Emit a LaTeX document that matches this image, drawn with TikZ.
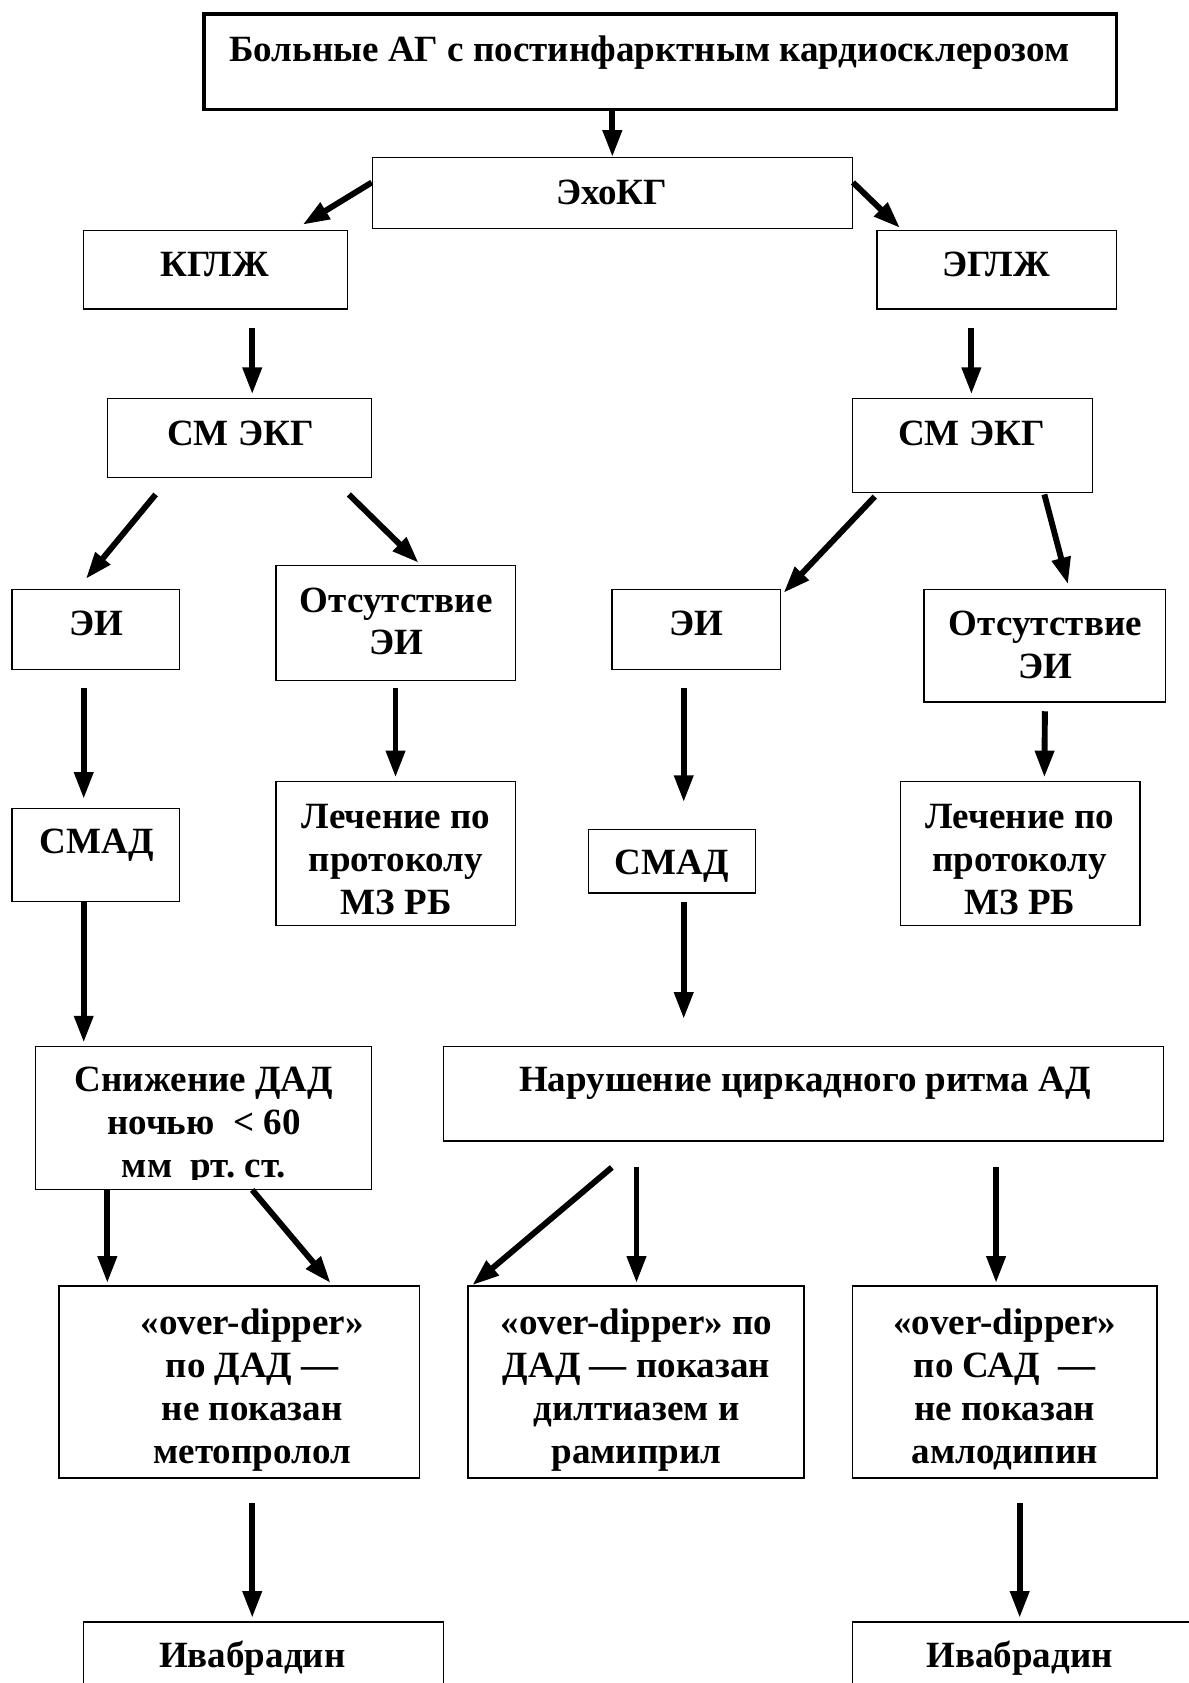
\documentclass[tikz,border=0pt]{standalone}
\usepackage{fontspec}
\setmainfont{Liberation Serif}
\usetikzlibrary{arrows.meta,calc}
\frenchspacing
\begin{document}
\begin{tikzpicture}[x=1pt,y=-1pt,
  box/.style={draw, line width=1.3pt, inner sep=0pt, anchor=center},
  lbl/.style={font=\bfseries\fontsize{34.5}{40}\selectfont, align=center, inner sep=0pt, anchor=north},
  arr/.style={line width=5.5pt, -{Triangle[length=25pt,width=17pt]}}]
\useasboundingbox (0,0) rectangle (1107,1568);
\fill[white] (0,0) rectangle (1107,1568);
% boxes
\node[box, line width=3pt, minimum width=850pt, minimum height=89pt] (top) at (615,57.5) {};
\node[box, minimum width=447pt, minimum height=66pt] (echo) at (570.5,180) {};
\node[box, minimum width=246pt, minimum height=73pt] (kglzh) at (201,251.5) {};
\node[box, minimum width=223pt, minimum height=73pt] (eglzh) at (928.5,251.5) {};
\node[box, minimum width=246pt, minimum height=74pt] (smekgL) at (223,408) {};
\node[box, minimum width=224pt, minimum height=88pt] (smekgR) at (906,415) {};
\node[box, minimum width=156pt, minimum height=75pt] (eiL) at (89,586.5) {};
\node[box, minimum width=223pt, minimum height=107pt] (otsL) at (368.5,580.5) {};
\node[box, minimum width=157pt, minimum height=75pt] (eiR) at (648.5,586.5) {};
\node[box, minimum width=225pt, minimum height=105pt] (otsR) at (973.5,601.5) {};
\node[box, minimum width=156pt, minimum height=87pt] (smadL) at (89,796.5) {};
\node[box, minimum width=223pt, minimum height=134pt] (lechL) at (368.5,795) {};
\node[box, minimum width=156pt, minimum height=59pt] (smadR) at (626,802.5) {};
\node[box, minimum width=223pt, minimum height=134pt] (lechR) at (950.5,795) {};
\node[box, minimum width=313pt, minimum height=133pt] (snizh) at (189.5,1041.5) {};
\node[box, minimum width=671pt, minimum height=88pt] (narush) at (748.5,1019) {};
\node[box, minimum width=336pt, minimum height=179pt] (odL) at (223,1287.5) {};
\node[box, minimum width=313pt, minimum height=179pt] (odM) at (592.5,1287.5) {};
\node[box, minimum width=284pt, minimum height=179pt] (odR) at (936,1287.5) {};
\node[box, minimum width=335pt, minimum height=120pt] (ivL) at (245.5,1571) {};
\node[box, minimum width=336pt, minimum height=120pt] (ivR) at (962,1571) {};
% labels
\node[lbl] (ttop) at (605,31) {\rule{0pt}{26pt}Больные АГ с постинфарктным кардиосклерозом};
\node[lbl] (techo) at (570,164) {\rule{0pt}{26pt}ЭхоКГ};
\node[lbl] (tkg) at (200,231) {\rule{0pt}{26pt}КГЛЖ};
\node[lbl] (teg) at (928,231) {\rule{0pt}{26pt}ЭГЛЖ};
\node[lbl] (tsmL) at (224,389) {\rule{0pt}{26pt}СМ ЭКГ};
\node[lbl] (tsmR) at (905,389) {\rule{0pt}{26pt}СМ ЭКГ};
\node[lbl] (teiL) at (90,566) {\rule{0pt}{26pt}ЭИ};
\node[lbl] (totsL) at (369,544) {\rule{0pt}{26pt}Отсутствие\\ЭИ};
\node[lbl] (teiR) at (649,566) {\rule{0pt}{26pt}ЭИ};
\node[lbl] (totsR) at (974,566) {\rule{0pt}{26pt}Отсутствие\\ЭИ};
\node[lbl] (tsmadL) at (90,769) {\rule{0pt}{26pt}СМАД};
\node[lbl] (tlechL) at (369,746) {\rule{0pt}{26pt}Лечение по\\протоколу\\МЗ РБ};
\node[lbl] (tsmadR) at (626,789) {\rule{0pt}{26pt}СМАД};
\node[lbl] (tlechR) at (950,746) {\rule{0pt}{26pt}Лечение по\\протоколу\\МЗ РБ};
\begin{scope}
\clip (snizh.north west) rectangle ($(snizh.south east)+(0,-10)$);
\node[lbl] (tsn) at (190,991) {\rule{0pt}{26pt}Снижение ДАД\\ночью\ \ < 60\\мм\ \ рт. ст.};
\end{scope}
\node[lbl] (tnar) at (750,991) {\rule{0pt}{26pt}Нарушение циркадного ритма АД};
\node[lbl] (todL) at (235,1217) {\rule{0pt}{26pt}«over-dipper»\\по ДАД —\\не показан\\метопролол};
\node[lbl] (todM) at (593,1217) {\rule{0pt}{26pt}«over-dipper» по\\ДАД — показан\\дилтиазем и\\рамиприл};
\node[lbl] (todR) at (936,1217) {\rule{0pt}{26pt}«over-dipper»\\по САД\ \ —\\не показан\\амлодипин};
\node[lbl] (tivL) at (235,1527) {\rule{0pt}{26pt}Ивабрадин};
\node[lbl] (tivR) at (950,1527) {\rule{0pt}{26pt}Ивабрадин};
% arrows
\draw[arr] (top.south -| echo.north) -- (echo.north);
\draw[arr] ($(echo.west)+(0,-10)$) -- ($(kglzh.north)+(81,-5)$);
\draw[arr] ($(echo.east)+(0,-10)$) -- ($(eglzh.north)+(-90,-2)$);
\draw[arr] ($(kglzh.south)+(34,17)$) -- ($(smekgL.north)+(12,-3)$);
\draw[arr] ($(eglzh.south)+(-23.5,17)$) -- ($(smekgR.north)+(-1,-3)$);
\draw[arr] ($(smekgL.south)+(-78,15)$) -- ($(eiL.north)+(-9,-9)$);
\draw[arr] ($(smekgL.south)+(102,15)$) -- ($(otsL.north)+(21.5,-2)$);
\draw[arr] ($(smekgR.south)+(-91,3)$) -- ($(eiR.north)+(81.5,4)$);
\draw[arr] ($(smekgR.south)+(67,1)$) -- ($(otsR.north)+(21.5,-4)$);
\draw[arr] ($(eiL.south)+(-11,16)$) -- ($(smadL.north)+(-11,-8)$);
\draw[arr] ($(otsL.south)+(0,6)$) -- ($(lechL.north)+(0,-3)$);
\draw[arr] ($(eiR.south)+(-11.5,16)$) -- ($(smadR.north)+(11,-25)$);
\draw[arr] ($(otsR.south)+(0,8)$) -- ($(lechR.north)+(22.5,-3)$);
\draw[arr] ($(smadL.south)+(-11,0)$) -- ($(snizh.north)+(-111.5,-3)$);
\draw[arr] ($(smadR.south)+(11,8)$) -- ($(narush.north)+(-111.5,-25)$);
\draw[arr] ($(snizh.south)+(-89.5,0)$) -- ($(odL.north)+(-123,-2)$);
\draw[arr] ($(snizh.south)+(45.5,0)$) -- ($(odL.north)+(85,-2)$);
\draw[arr] ($(narush.south)+(-178.5,24)$) -- ($(odM.north)+(-152.5,0)$);
\draw[arr] ($(narush.south)+(-155.5,24)$) -- ($(odM.north)+(0.5,-2)$);
\draw[arr] ($(narush.south)+(179.5,24)$) -- ($(odR.north)+(-8,-2)$);
\draw[arr] ($(odL.south)+(12,23)$) -- ($(ivL.north)+(-10.5,-3)$);
\draw[arr] ($(odR.south)+(14,23)$) -- ($(ivR.north)+(-12,-3)$);
\end{tikzpicture}
\end{document}
